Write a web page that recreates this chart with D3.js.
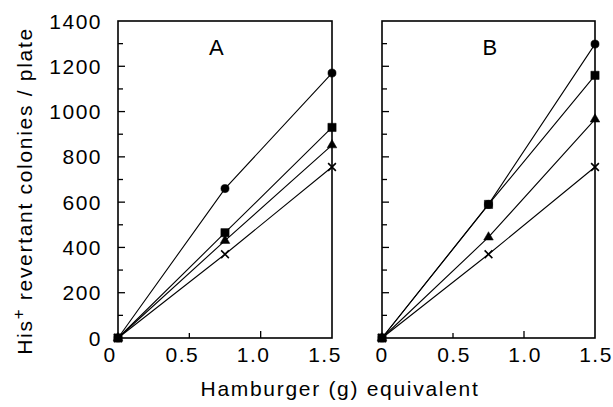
<!DOCTYPE html>
<html>
<head>
  <meta charset="utf-8">
  <script src="https://d3js.org/d3.v7.min.js"></script>
  <style>
    body { margin: 0; background: white; }
    svg { display: block; font-family: "Liberation Sans", Arial, sans-serif; }
    .tick-label { font-size: 21px; letter-spacing: 1.5px; fill: black; }
    .title { font-size: 21px; letter-spacing: 1.7px; fill: black; }
    .panel-label { font-size: 22px; fill: black; }
    .frame { fill: none; stroke: black; stroke-width: 1.6; }
    .series { fill: none; stroke: black; stroke-width: 1.1; }
  </style>
</head>
<body>
<script>
  // hamburger equivalent (g)
  const doses = [0, 0.75, 1.5];

  // panel A
  const circleA   = [0, 660, 1170];
  const squareA   = [0, 465, 930];
  const triangleA = [0, 430, 852];
  const crossA    = [0, 370, 755];

  // panel B
  const circleB   = [0, 590, 1298];
  const squareB   = [0, 590, 1160];
  const triangleB = [0, 445, 966];
  const crossB    = [0, 370, 755];

  const xTicks = [0, 0.5, 1.0, 1.5];
  const xTickLabels = ["0", "0.5", "1.0", "1.5"];
  const yTicks = [0, 200, 400, 600, 800, 1000, 1200, 1400];
  const yMinorTicks = d3.range(100, 1400, 200);

  const width = 613, height = 407;
  const plotTop = 21, plotBottom = 338;

  const panels = [
    { name: "A", left: 118, right: 332, labelAt: 0.69, labelShift: -8, yLabels: true,
      series: [["circle", circleA], ["square", squareA], ["triangle", triangleA], ["cross", crossA]] },
    { name: "B", left: 382, right: 595, labelAt: 0.76, labelShift: 0, yLabels: false,
      series: [["circle", circleB], ["square", squareB], ["triangle", triangleB], ["cross", crossB]] }
  ];

  const crossSymbol = {
    draw(ctx, size) {
      const r = Math.sqrt(size) / 2;
      ctx.moveTo(-r, -r); ctx.lineTo(r, r);
      ctx.moveTo(-r, r); ctx.lineTo(r, -r);
    }
  };
  const symbols = {
    circle:   d3.symbol().type(d3.symbolCircle).size(52),
    square:   d3.symbol().type(d3.symbolSquare).size(68),
    triangle: d3.symbol().type(d3.symbolTriangle).size(40),
    cross:    d3.symbol().type(crossSymbol).size(60)
  };

  const svg = d3.select("body").append("svg")
      .attr("width", width)
      .attr("height", height);

  const y = d3.scaleLinear().domain([0, 1400]).range([plotBottom, plotTop]);

  panels.forEach(p => {
    const x = d3.scaleLinear().domain([0, 1.5]).range([p.left, p.right]);
    const g = svg.append("g");

    // inward ticks on the left axis
    g.selectAll(".ymaj").data(yTicks.slice(1, -1)).enter().append("line")
        .attr("x1", p.left).attr("x2", p.left + 7)
        .attr("y1", d => y(d)).attr("y2", d => y(d))
        .attr("stroke", "black").attr("stroke-width", 1.3);
    g.selectAll(".ymin").data(yMinorTicks).enter().append("line")
        .attr("x1", p.left).attr("x2", p.left + 5)
        .attr("y1", d => y(d)).attr("y2", d => y(d))
        .attr("stroke", "black").attr("stroke-width", 1.3);

    // inward ticks on the bottom axis
    g.selectAll(".xt").data([0.5, 1.0]).enter().append("line")
        .attr("x1", d => x(d)).attr("x2", d => x(d))
        .attr("y1", plotBottom).attr("y2", d => plotBottom - (d === 1 ? 7 : 5))
        .attr("stroke", "black").attr("stroke-width", 1.3);

    g.append("rect").attr("class", "frame")
        .attr("x", p.left).attr("y", plotTop)
        .attr("width", p.right - p.left).attr("height", plotBottom - plotTop);

    g.selectAll(".xl").data(xTicks).enter().append("text")
        .attr("class", "tick-label")
        .attr("x", (d, i) => x(d) + p.labelShift + (i === 0 ? 0 : 1))
        .attr("y", 362)
        .attr("text-anchor", "middle")
        .text((d, i) => xTickLabels[i]);

    if (p.yLabels) {
      g.selectAll(".yl").data(yTicks).enter().append("text")
          .attr("class", "tick-label")
          .attr("x", p.left - 16)
          .attr("y", d => y(d))
          .attr("dy", "0.36em")
          .attr("text-anchor", "end")
          .text(d => d);
    }

    g.append("text").attr("class", "panel-label")
        .attr("x", x(p.labelAt)).attr("y", 55)
        .attr("text-anchor", "middle")
        .text(p.name);

    const line = d3.line().x((d, i) => x(doses[i])).y(d => y(d));
    p.series.forEach(([kind, vals]) => {
      g.append("path").attr("class", "series").attr("d", line(vals));
    });
    p.series.forEach(([kind, vals]) => {
      g.selectAll(null).data(vals).enter().append("path")
          .attr("transform", (d, i) => `translate(${x(doses[i])},${y(d)})`)
          .attr("d", symbols[kind]())
          .attr("fill", kind === "cross" ? "none" : "black")
          .attr("stroke", "black")
          .attr("stroke-width", kind === "cross" ? 1.6 : 0.5);
    });
  });

  svg.append("text").attr("class", "title")
      .attr("x", 340).attr("y", 396)
      .attr("text-anchor", "middle")
      .text("Hamburger (g) equivalent");

  const yt = svg.append("text").attr("class", "title")
      .attr("transform", "translate(32,191) rotate(-90)")
      .attr("text-anchor", "middle");
  yt.append("tspan").text("His");
  yt.append("tspan").attr("dy", -8).attr("font-size", 17).text("+");
  yt.append("tspan").attr("dy", 8).text(" revertant colonies / plate");
</script>
</body>
</html>
